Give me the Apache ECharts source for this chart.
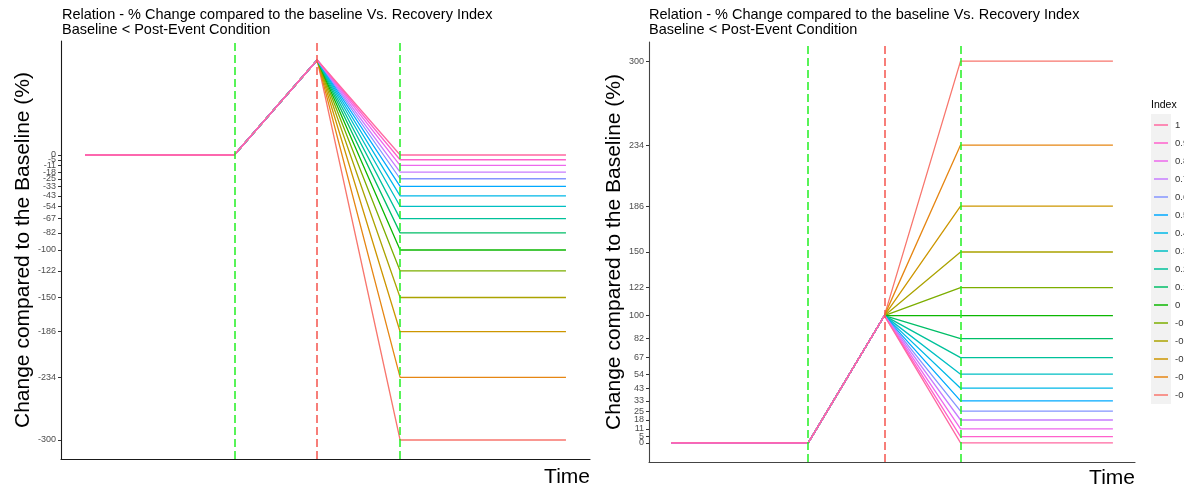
<!DOCTYPE html>
<html>
<head>
<meta charset="utf-8">
<script src="https://cdn.jsdelivr.net/npm/echarts@6/dist/echarts.min.js"></script>
<style>
  html, body { margin: 0; padding: 0; background: #fff; }
  #chart { width: 1184px; height: 490px; }
</style>
</head>
<body>
<div id="chart"></div>
<script>
// Recovery index levels (ascending = drawing order; legend lists them descending)
const indexLevels = ['-0.5', '-0.4', '-0.3', '-0.2', '-0.1', '0', '0.1', '0.2', '0.3', '0.4', '0.5', '0.6', '0.7', '0.8', '0.9', '1'];
// Time positions: start, first marker, event, second marker, end
const timePoints = [0, 1.8, 2.8, 3.8, 5.8];
// Common path before the split
const baselineValue = 0;
const eventValue = 100;
// Final % change per index level
const finalDecrease = [-300, -234, -186, -150, -122, -100, -82, -67, -54, -43, -33, -25, -18, -11, -5, 0];
const finalIncrease = [300, 234, 186, 150, 122, 100, 82, 67, 54, 43, 33, 25, 18, 11, 5, 0];
// Vertical reference lines
const markerTimes = [1.8, 3.8];
const eventTime = 2.8;

const titleText = 'Relation - % Change compared to the baseline Vs. Recovery Index\nBaseline < Post-Event Condition';
const yName = 'Change compared to the Baseline (%)';

// ggplot-style hue palette (HCL, c = 100, l = 65)
function hcl(h, c, l) {
  const hr = h * Math.PI / 180;
  const U = c * Math.cos(hr), V = c * Math.sin(hr);
  const Xn = 95.047, Yn = 100, Zn = 108.883;
  const den = Xn + 15 * Yn + 3 * Zn;
  const un = 4 * Xn / den, vn = 9 * Yn / den;
  const Y = Yn * (l > 8 ? Math.pow((l + 16) / 116, 3) : l / 903.3);
  const up = U / (13 * l) + un, vp = V / (13 * l) + vn;
  const X = 9 * Y * up / (4 * vp);
  const Z = -X / 3 - 5 * Y + 3 * Y / vp;
  const x = X / 100, y = Y / 100, z = Z / 100;
  const lin = [
    3.240479 * x - 1.537150 * y - 0.498535 * z,
    -0.969256 * x + 1.875992 * y + 0.041556 * z,
    0.055648 * x - 0.204043 * y + 1.057311 * z
  ];
  const hex = lin.map(v => {
    let g = v <= 0.0031308 ? 12.92 * v : 1.055 * Math.pow(v, 1 / 2.4) - 0.055;
    g = Math.max(0, Math.min(1, g));
    return Math.round(g * 255).toString(16).padStart(2, '0');
  });
  return '#' + hex.join('');
}
const n = indexLevels.length;
const palette = indexLevels.map((_, i) => hcl(15 + i * 360 / n, 100, 65));

function pathFor(finalValue) {
  return [
    [timePoints[0], baselineValue],
    [timePoints[1], baselineValue],
    [timePoints[2], eventValue],
    [timePoints[3], finalValue],
    [timePoints[4], finalValue]
  ];
}

const refLines = {
  silent: true,
  symbol: ['none', 'none'],
  label: { show: false },
  emphasis: { disabled: true },
  data: [
    { xAxis: markerTimes[0], lineStyle: { color: '#22F022', type: [8, 4], width: 1.5 } },
    { xAxis: eventTime, lineStyle: { color: '#F5544E', type: [8, 4], width: 1.5 } },
    { xAxis: markerTimes[1], lineStyle: { color: '#22F022', type: [8, 4], width: 1.5 } }
  ]
};

const series = [];
[finalDecrease, finalIncrease].forEach((finals, g) => {
  indexLevels.forEach((lvl, i) => {
    const s = {
      name: lvl,
      type: 'line',
      xAxisIndex: g,
      yAxisIndex: g,
      data: pathFor(finals[i]),
      showSymbol: false,
      symbol: 'none',
      color: palette[i],
      lineStyle: { width: 1.3, color: palette[i] },
      emphasis: { disabled: true },
      silent: true
    };
    if (i === n - 1) s.markLine = refLines;
    series.push(s);
  });
});

const xSpan = timePoints[timePoints.length - 1] - timePoints[0];
function xAxisCfg(gridIndex, lineColor, padTop) {
  return {
    type: 'value',
    gridIndex,
    min: timePoints[0] - xSpan * 0.05,
    max: timePoints[timePoints.length - 1] + xSpan * 0.05,
    axisLine: { show: true, onZero: false, lineStyle: { color: lineColor, width: 1.1 } },
    axisTick: { show: false },
    axisLabel: { show: false },
    splitLine: { show: false },
    name: 'Time',
    nameLocation: 'end',
    nameGap: 0,
    nameTextStyle: {
      fontFamily: 'Liberation Sans', fontSize: 21, color: '#000',
      align: 'right', verticalAlign: 'top', padding: [padTop, 0, 0, 0]
    }
  };
}

// Axis range with 5% padding around the data extent
function yRange(finals) {
  const lo = Math.min(...finals, eventValue), hi = Math.max(...finals, eventValue);
  const pad = (hi - lo) * 0.05;
  return { min: lo - pad, max: hi + pad };
}
const labelStyle = {
  fontFamily: 'Liberation Sans', fontSize: 9, color: '#4D4D4D',
  margin: 5, hideOverlap: false, showMinLabel: true, showMaxLabel: true,
  formatter: v => String(Math.round(v))
};
const tickFor = v => (v === 0 ? 1e-9 : v);

// Main axis: every break except the one sitting right next to zero
function yAxisCfg(gridIndex, finals, lineColor, gap) {
  const crowded = finals[finals.length - 2];
  const tickValues = finals.filter(v => v !== crowded).map(tickFor);
  return Object.assign({
    type: 'value',
    gridIndex,
    axisLine: { show: true, onZero: false, lineStyle: { color: lineColor, width: 1.1 } },
    axisTick: { show: true, length: 3, customValues: tickValues, lineStyle: { color: '#333' } },
    axisLabel: Object.assign({ customValues: tickValues }, labelStyle),
    splitLine: { show: false },
    name: yName,
    nameLocation: 'middle',
    nameGap: gap,
    nameTextStyle: { fontFamily: 'Liberation Sans', fontSize: 21, color: '#000' }
  }, yRange(finals));
}
// Companion axis carrying the break next to zero, so crowded labels all stay visible
function yAxisExtra(gridIndex, finals) {
  const tickValues = [tickFor(finals[finals.length - 2])];
  return Object.assign({
    type: 'value',
    gridIndex,
    position: 'left',
    offset: 0,
    axisLine: { show: false, onZero: false },
    axisTick: { show: true, length: 3, customValues: tickValues, lineStyle: { color: '#333' } },
    axisLabel: Object.assign({ customValues: tickValues }, labelStyle),
    splitLine: { show: false }
  }, yRange(finals));
}

const titleStyle = { fontFamily: 'Liberation Sans', fontSize: 14.5, fontWeight: 'normal', color: '#000', lineHeight: 15 };

const option = {
  animation: false,
  backgroundColor: '#fff',
  title: [
    { text: titleText, left: 57, top: 2, textStyle: titleStyle },
    { text: titleText, left: 644, top: 2, textStyle: titleStyle }
  ],
  grid: [
    { left: 61, top: 41, width: 529, height: 418 },
    { left: 649, top: 42, width: 486, height: 420 }
  ],
  xAxis: [xAxisCfg(0, '#1a1a1a', 8), xAxisCfg(1, '#444', 6)],
  yAxis: [
    yAxisCfg(0, finalDecrease, '#1a1a1a', 27),
    yAxisCfg(1, finalIncrease, '#444', 17),
    yAxisExtra(0, finalDecrease),
    yAxisExtra(1, finalIncrease)
  ],
  legend: {
    orient: 'vertical',
    left: 1154,
    top: 119,
    padding: 0,
    data: indexLevels.slice().reverse(),
    icon: 'rect',
    itemWidth: 14,
    itemHeight: 1.5,
    itemGap: 6,
    selectedMode: false,
    textStyle: { fontFamily: 'Liberation Sans', fontSize: 9.5, color: '#333', lineHeight: 12, padding: [0, 0, 0, 2] }
  },
  graphic: [
    { type: 'rect', z: -1, shape: { x: 1151, y: 114, width: 20, height: 290 }, style: { fill: '#F2F2F2' } },
    { type: 'text', x: 1151, y: 100, style: { text: 'Index', fontFamily: 'Liberation Sans', fontSize: 10.5, fill: '#000' } }
  ],
  series
};

const chart = echarts.init(document.getElementById('chart'), null, { renderer: 'canvas' });
chart.setOption(option);
</script>
</body>
</html>
